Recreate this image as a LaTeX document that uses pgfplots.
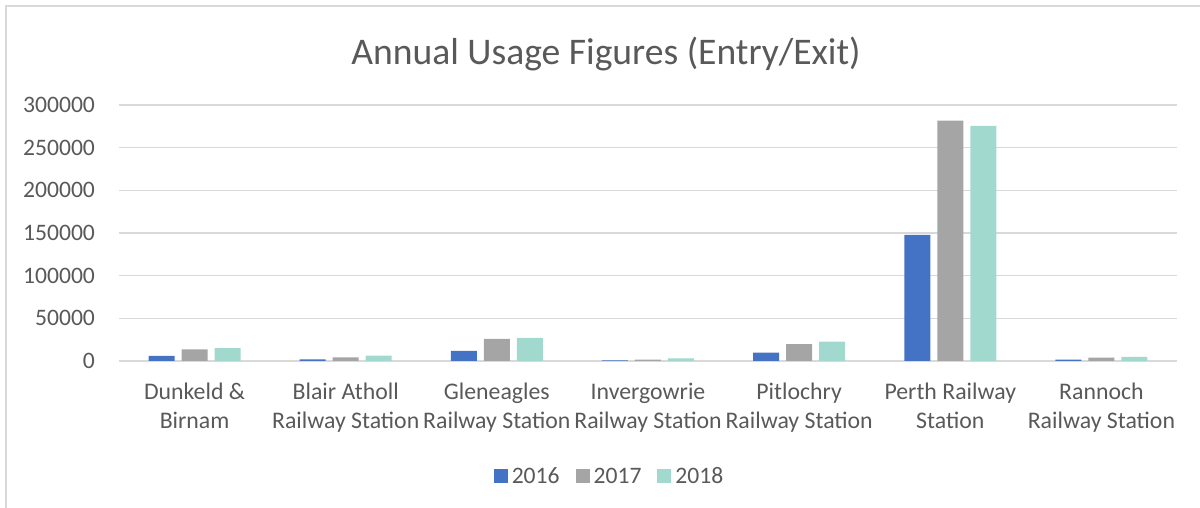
\documentclass[border=0pt]{standalone}
\usepackage{pgfplots}
\pgfplotsset{compat=1.18}
\usepackage{fontspec}
\setmainfont{Carlito}
\definecolor{cBlue}{HTML}{4472C4}
\definecolor{cGray}{HTML}{A5A5A5}
\definecolor{cTeal}{HTML}{A2D9CE}
\definecolor{cText}{HTML}{595959}
\definecolor{cGrid}{HTML}{D9D9D9}
\begin{document}
\begin{tikzpicture}
\path[use as bounding box] (0,0) rectangle (600pt,254pt);
\draw[cGrid, line width=0.8pt] (3pt,0) -- (3pt,251pt) -- (600pt,251pt);
\node[text=cText, font=\fontsize{18.8}{22}\selectfont] at (303pt,227pt) {Annual Usage Figures (Entry/Exit)};
\begin{axis}[
  at={(59.5pt,73.5pt)}, anchor=south west,
  scale only axis, width=529pt, height=128pt,
  ybar=3.5pt, bar width=13pt,
  xmin=-0.5, xmax=6.5, ymin=0, ymax=300000,
  xtick={0,...,6},
  xticklabels={{Dunkeld \&\\Birnam},{Blair Atholl\\Railway Station},{Gleneagles\\Railway Station},{Invergowrie\\Railway Station},{Pitlochry\\Railway Station},{Perth Railway\\Station},{Rannoch\\Railway Station}},
  ytick={0,50000,...,300000},
  scaled y ticks=false,
  yticklabel style={/pgf/number format/fixed, /pgf/number format/1000 sep={}, /pgf/number format/assume math mode=true, text=cText, font=\fontsize{11.8}{14}\selectfont, anchor=east, xshift=-8.5pt},
  xticklabel style={align=center, text=cText, font=\fontsize{11.9}{14.5}\selectfont, anchor=north, yshift=-7.5pt},
  major tick length=0pt,
  axis line style={draw=none},
  ymajorgrids, grid style={cGrid, line width=0.75pt},
  legend columns=3,
  legend style={at={(0.4646,-0.453)}, anchor=center, draw=none, fill=none, font=\fontsize{11.8}{14}\selectfont, text=cText, /tikz/every even column/.append style={column sep=6pt}, inner sep=0pt},
  legend image code/.code={\fill[#1] (0pt,-2.8pt) rectangle (7pt,4.2pt);},
]
\addplot[fill=cBlue, draw=none] coordinates {(0,6000) (1,2000) (2,12000) (3,600) (4,9800) (5,147700) (6,1600)};
\addplot[fill=cGray, draw=none] coordinates {(0,13700) (1,4300) (2,25800) (3,1600) (4,19900) (5,281600) (6,3900)};
\addplot[fill=cTeal, draw=none] coordinates {(0,15200) (1,6200) (2,27000) (3,3100) (4,22600) (5,275400) (6,4700)};
\legend{2016,2017,2018}
\end{axis}
\end{tikzpicture}
\end{document}
